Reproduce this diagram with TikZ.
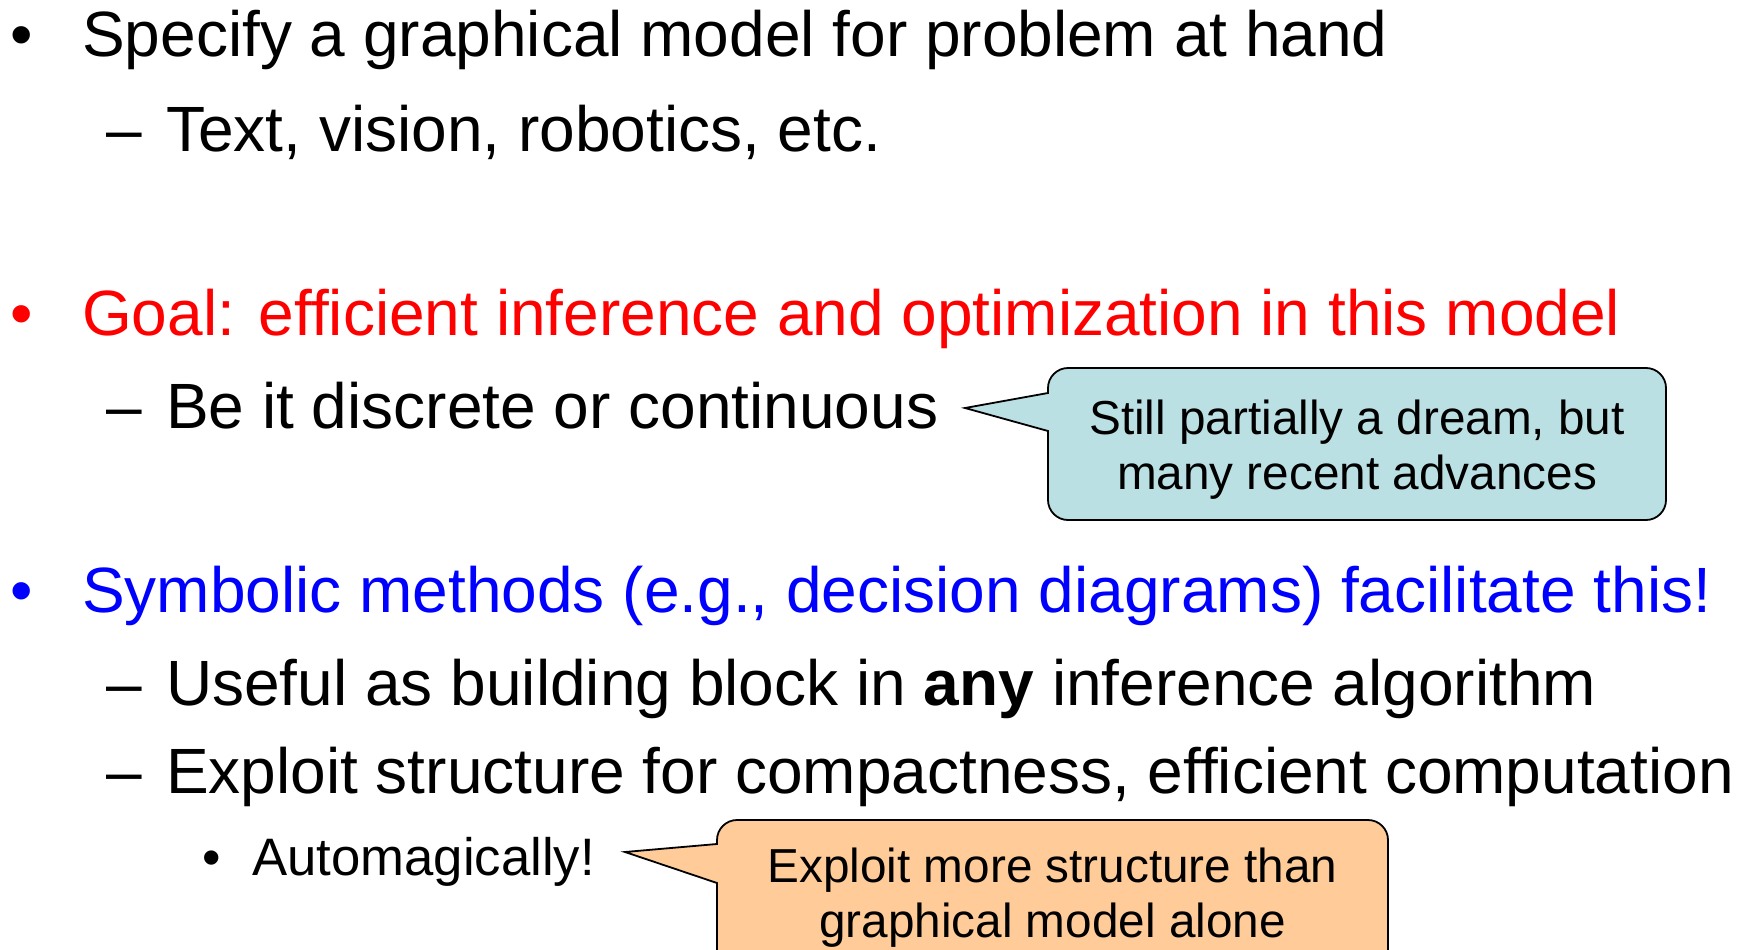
\documentclass[tikz,border=0pt]{standalone}
\usepackage{fontspec}
\setmainfont{Liberation Sans}
\definecolor{callblue}{HTML}{BBE0E3}
\definecolor{callorange}{HTML}{FFCC99}
\definecolor{goalred}{HTML}{FF0000}
\definecolor{symblue}{HTML}{0000FF}
\tikzset{
  big/.style={anchor=base west, inner sep=0pt, font=\fontsize{64}{77}\selectfont},
  small/.style={anchor=base west, inner sep=0pt, font=\fontsize{52.7}{63}\selectfont},
  calltext/.style={anchor=base, inner sep=0pt, font=\fontsize{47.7}{57}\selectfont},
  callout/.style={draw=black, line width=1.8pt, line join=miter},
}
\begin{document}
\begin{tikzpicture}[x=1pt,y=-1pt]
\useasboundingbox (0,0) rectangle (1738,950);
\clip (0,0) rectangle (1738,950);
% row 1
\node[big] (b1) at (10,57) {•};
\node[big] (t1) at (82,57) {Specify a graphical model for problem at hand};
% row 2
\node[big] (d2) at (106,151.5) {–};
\node[big] (t2) at (166,151.5) {Text, vision, robotics, etc.};
% row 3
\node[big, text=goalred] (b3) at (10,335) {•};
\node[big, text=goalred] (t3) at (82,335) {Goal: efficient inference and optimization in this model};
% row 4
\node[big] (d4) at (106,428) {–};
\node[big] (t4) at (166,428) {Be it discrete or continuous};
% blue callout
\draw[callout, fill=callblue] (1048,393) -- (965,408) -- (1048,431) -- (1048,500)
  .. controls (1048,511) and (1057,520) .. (1068,520) -- (1646,520)
  .. controls (1657,520) and (1666,511) .. (1666,500) -- (1666,388)
  .. controls (1666,377) and (1657,368) .. (1646,368) -- (1068,368)
  .. controls (1057,368) and (1048,377) .. (1048,388) -- cycle;
\node[calltext] (c1a) at (1357,434) {Still partially a dream, but};
\node[calltext] (c1b) at (1357,489) {many recent advances};
% row 6
\node[big, text=symblue] (b6) at (10,612) {•};
\node[big, text=symblue] (t6) at (82,612) {Symbolic methods (e.g., decision diagrams) facilitate this!};
% row 7
\node[big] (d7) at (106,705) {–};
\node[big] (t7) at (166,705) {Useful as building block in \textbf{any} inference algorithm};
% row 8
\node[big] (d8) at (106,793) {–};
\node[big] (t8) at (166,793) {Exploit structure for compactness, efficient computation};
% row 9
\node[small] (b9) at (202,875) {•};
\node[small] (t9) at (252,875) {Automagically!};
% orange callout
\draw[callout, fill=callorange] (717,844) -- (625,852) -- (717,883) -- (717,970)
  -- (1388,970) -- (1388,840)
  .. controls (1388,829) and (1379,820) .. (1368,820) -- (737,820)
  .. controls (726,820) and (717,829) .. (717,840) -- cycle;
\node[calltext] (c2a) at (1052.5,882) {Exploit more structure than};
\node[calltext] (c2b) at (1052.5,937) {graphical model alone};
\end{tikzpicture}
\end{document}
